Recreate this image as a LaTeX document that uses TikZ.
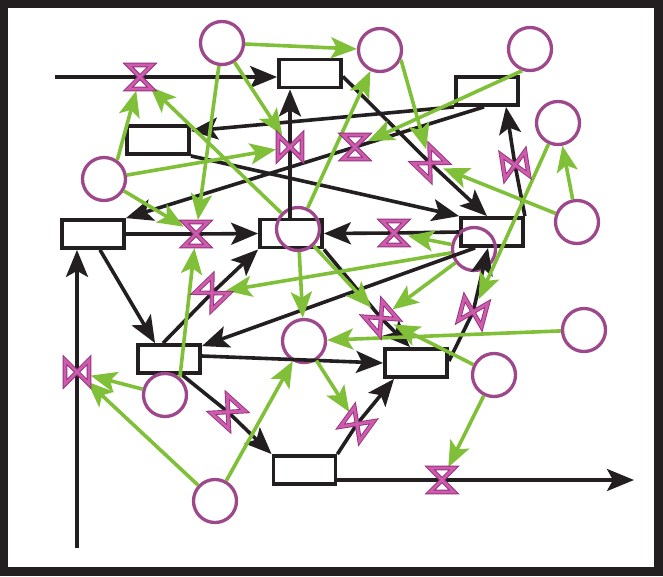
\documentclass[tikz,border=0pt]{standalone}
\usetikzlibrary{arrows.meta,calc}
\definecolor{pipec}{RGB}{35,31,32}
\definecolor{linkc}{RGB}{128,192,56}
\definecolor{circc}{RGB}{158,72,140}
\definecolor{valvedark}{RGB}{150,50,125}
\definecolor{valvepink}{RGB}{205,92,172}
\begin{document}
\begin{tikzpicture}[x=1pt,y=-1pt,
  stock/.style={draw=pipec, line width=3.8pt, fill=white, minimum width=62pt, minimum height=28pt, inner sep=0pt},
  aux/.style={draw=circc, line width=3.3pt, circle, minimum size=43pt, inner sep=0pt},
  valvenode/.style={circle, minimum size=28pt, inner sep=0pt},
  pipe/.style={draw=pipec, line width=3.6pt, -{Stealth[length=27pt,width=22pt,inset=6pt]}},
  link/.style={draw=linkc, line width=3.6pt, -{Stealth[length=26pt,width=21pt,inset=6pt]}},
  valveline/.style={draw=valvedark, line width=0.9pt, double=valvepink, double distance=2.8pt, fill=white, line join=miter},
  pics/valve/.style={code={\path[valveline] (-12,-12) -- (12,-12) -- (-12,12) -- (12,12) -- cycle;}}
]
\useasboundingbox (0,0) rectangle (663,576);
\fill[pipec] (0,0) rectangle (663,576);
\fill[white] (8,8) rectangle (654,567);

% stocks
\node[stock] (R1) at (310,73.5) {};
\node[stock] (R2) at (158,140) {};
\node[stock] (R3) at (487,91) {};
\node[stock] (R4) at (93,234) {};
\node[stock] (R5) at (291,233.5) {};
\node[stock] (R6) at (492,232) {};
\node[stock] (R7) at (169,359) {};
\node[stock] (R8) at (416,363) {};
\node[stock] (R9) at (304.5,470) {};

% auxiliaries
\node[aux] (C1) at (222,43) {};
\node[aux] (C2) at (380,50) {};
\node[aux] (C3) at (530,49) {};
\node[aux] (C4) at (558,123) {};
\node[aux] (C5) at (104,179) {};
\node[aux] (C6) at (298,229) {};
\node[aux] (C7) at (577,222) {};
\node[aux] (C8) at (474,249) {};
\node[aux] (C9) at (304,341) {};
\node[aux] (C10) at (584,330) {};
\node[aux] (C11) at (165,395) {};
\node[aux] (C12) at (494,375) {};
\node[aux] (C13) at (215,501) {};

% valves (positions)
\node[valvenode] (V1) at (140,77) {};
\node[valvenode] (V2) at (290,147) {};
\node[valvenode] (V3) at (355,147) {};
\node[valvenode] (V4) at (430,163) {};
\node[valvenode] (V5) at (515,165) {};
\node[valvenode] (V6) at (394,233) {};
\node[valvenode] (V7) at (196,234) {};
\node[valvenode] (V8) at (212,293) {};
\node[valvenode] (V9) at (381,318) {};
\node[valvenode] (V10) at (473,312) {};
\node[valvenode] (V11) at (77,372) {};
\node[valvenode] (V12) at (228,412) {};
\node[valvenode] (V13) at (357,424) {};
\node[valvenode] (V14) at (442,480) {};

\coordinate (src1) at (55,77);
\coordinate (src2) at (77,548);
\coordinate (sink1) at (634,480);

% black pipes
\draw[pipe] (src1) -- (V1.center) -- (src1 -| R1.west);
\draw[pipe] (V2 |- R5.north) -- (V2.center) -- (V2 |- R1.south);
\draw[pipe] (R3.south west) -- ($(R2.east)+(0,-9)$);
\draw[pipe] ($(R3.south)+(-3,0)$) -- (V3.center) -- (R4.north east);
\draw[pipe] (R2.south east) -- (R6.north west);
\draw[pipe] ($(R1.east)+(0,3)$) -- (V4.center) -- ($(R6.north)+(-5,0)$);
\draw[pipe] (R6.north east) -- (V5.center) -- ($(R3.south)+(19,0)$);
\draw[pipe] (R6.west) -- (V6.center) -- (R5.east);
\draw[pipe] (R4.east) -- (V7.center) -- (R5.west);
\draw[pipe] ($(R4.south)+(7,0)$) -- ($(R7.north)+(-14,0)$);
\draw[pipe] (src2) -- (V11.center) -- (V11 |- R4.south);
\draw[pipe] ($(R7.north)+(-6,0)$) -- (V8.center) -- (R5.south west);
\draw[pipe] ($(R6.south west)+(16,0)$) -- ($(R7.north east)+(0,3)$);
\draw[pipe] ($(R7.east)+(0,-3)$) -- (R8.west);
\draw[pipe] ($(R7.south)+(13,0)$) -- (V12.center) -- (R9.north west);
\draw[pipe] (R9.north east) -- (V13.center) -- ($(R8.south)+(-22,0)$);
\draw[pipe] ($(R9.east)+(0,10)$) -- (V14.center) -- (sink1);
\draw[pipe] ($(R8.east)+(0,-2)$) -- (V10.center) -- ($(R6.south)+(-4,0)$);
\draw[pipe] (R5.south east) -- (V9.center) -- ($(R8.north)+(-6,0)$);

% green links
\draw[link] (C1) -- (C2);
\draw[link] (C1) -- (V2);
\draw[link] (C1) -- (V7);
\draw[link] (C2.335) -- (V4);
\draw[link] (C3.250) -- (V3);
\draw[link] (C4) -- (V10);
\draw[link] (C7) -- (C4);
\draw[link] (C7) -- (V4);
\draw[link] (C6) -- (V1);
\draw[link] (C5.55) -- (V1);
\draw[link] (C5) -- (V2);
\draw[link] (C5) -- (V7);
\draw[link] (C6) -- (C2);
\draw[link] (C8) -- (V6);
\draw[link] (C8) -- (V8);
\draw[link] (C6) -- (C9);
\draw[link] (C6) -- (V9);
\draw[link] (C8) -- (V9);
\draw[link] (C10) -- (C9);
\draw[link] (C12) -- (V9);
\draw[link] (C12) -- (V14);
\draw[link] (C11) -- (V11);
\draw[link] (C13) -- (V11);
\draw[link] (C13) -- (C9);
\draw[link] (C11.50) -- (V7);
\draw[link] (C9) -- (V13);

% valve symbols
\pic at (V1) {valve};
\pic[rotate=90] at (V2) {valve};
\pic at (V3) {valve};
\pic[rotate=-44] at (V4) {valve};
\pic[rotate=99] at (V5) {valve};
\pic at (V6) {valve};
\pic at (V7) {valve};
\pic[rotate=44] at (V8) {valve};
\pic[rotate=-49] at (V9) {valve};
\pic[rotate=75] at (V10) {valve};
\pic[rotate=90] at (V11) {valve};
\pic[rotate=-42] at (V12) {valve};
\pic[rotate=54] at (V13) {valve};
\pic at (V14) {valve};
\end{tikzpicture}
\end{document}
